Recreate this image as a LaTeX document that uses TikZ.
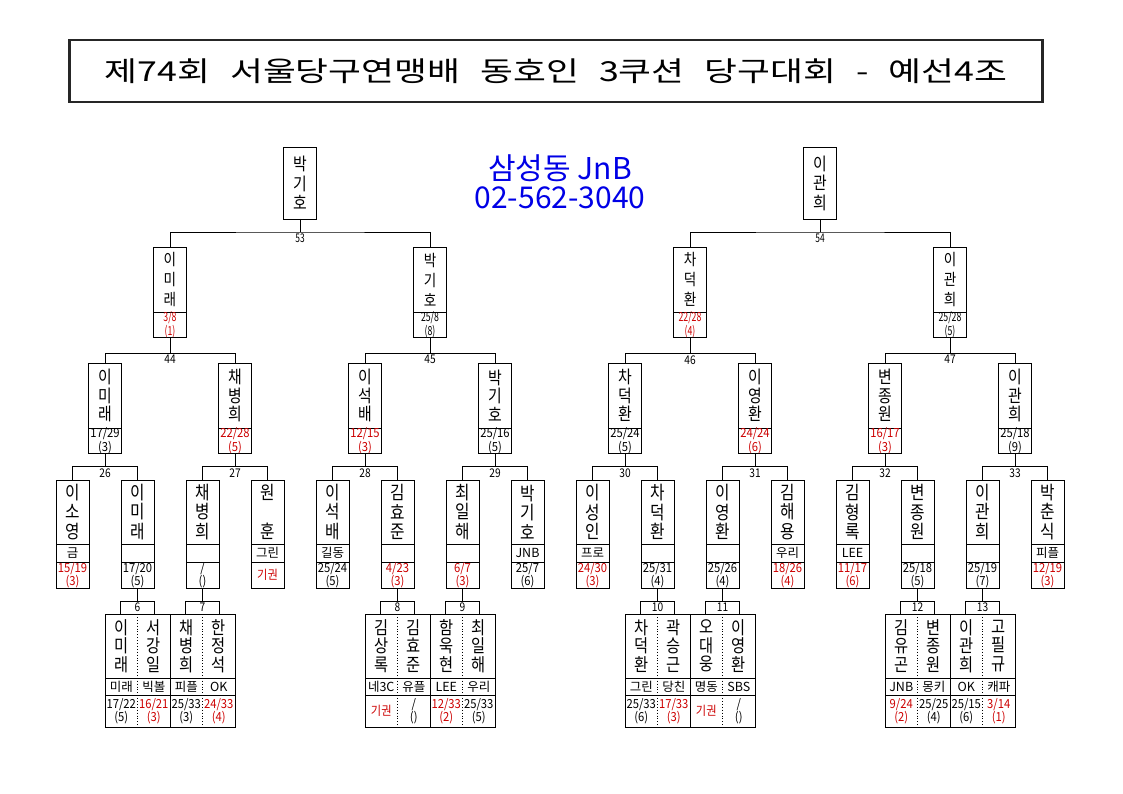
\documentclass[tikz,border=0pt]{standalone}
\usepackage{fontspec}
\setmainfont{Noto Sans CJK KR}
\newfontfamily\namefont[FakeStretch=0.85]{Noto Sans CJK KR}
\newfontfamily\digitfont[FakeStretch=0.9]{Noto Sans CJK KR}
\newfontfamily\tightfont[FakeStretch=0.7]{Noto Sans CJK KR}
\newfontfamily\titlefont[FakeStretch=1.3,WordSpace=2.5]{Noto Sans CJK KR}
\usepackage{xcolor}
\usepackage{tikz}
\usetikzlibrary{positioning}
\definecolor{lossred}{RGB}{204,0,0}
\definecolor{hallblue}{RGB}{0,0,230}
\tikzset{
x=1pt, y=-1pt, % pixel grid, y runs downwards
every node/.style={inner sep=0pt, outer sep=0pt}, % boxes touch exactly
cell/.style={draw, line width=0.9pt, minimum width=33pt}, % one box of a player
pname/.style={cell, minimum height=64pt, align=center, font=\namefont\fontsize{18.5}{19.5}\selectfont},
pn1/.style={pname, minimum height=72pt, font=\namefont\fontsize{17.5}{19.5}\selectfont},
pn2/.style={pname, minimum height=65pt, font=\namefont\fontsize{16}{20}\selectfont},
pn3/.style={pname, minimum height=65pt, font=\namefont\fontsize{17.5}{18.5}\selectfont},
club/.style={cell, minimum height=18pt, font=\fontsize{12.5}{12}\selectfont},
score/.style={cell, minimum height=26pt, align=center, font=\digitfont\fontsize{12.5}{10.5}\selectfont},
score2/.style={cell, minimum height=21pt, align=center, font=\tightfont\fontsize{12.5}{10}\selectfont},
lost/.style={text=lossred}, % the loser's score is red
p5/.style={minimum width=32.5pt, minimum height=64pt, align=center, font=\namefont\fontsize{18}{18.7}\selectfont},
c5/.style={minimum width=32.5pt, minimum height=17pt, font=\fontsize{12.5}{12}\selectfont},
s5/.style={minimum width=32.5pt, minimum height=32pt, align=center, font=\digitfont\fontsize{12.5}{10.5}\selectfont},
mbox/.style={cell, minimum width=34pt, minimum height=13pt, font=\namefont\fontsize{12}{12}\selectfont},
mno/.style={below=1.5pt, font=\namefont\fontsize{12}{12}\selectfont}, % match number under a bracket
link/.style={line width=0.9pt},
}

\begin{document}
\begin{tikzpicture}
\useasboundingbox (0,0) rectangle (1123,794);
\node[draw, line width=2.5pt, draw=black!85, minimum width=973pt, minimum height=62pt, font=\titlefont\fontsize{27.5}{27}\selectfont] (title) at (556,71) {제74회 서울당구연맹배 동호인 3쿠션 당구대회 - 예선4조};
\node[align=center, text=hallblue, font=\fontsize{30}{29}\selectfont] (hall) at (560,182) {삼성동 JnB\\02-562-3040};

\node[pn1] (w53) at (300,183) {박\\기\\호};
\node[pn1] (w54) at (820,183) {이\\관\\희};

\node[pn2] (p53a) at (170,279.5) {이\\미\\래};
\node[score2, lost, below=0pt of p53a] (p53a-s) {3/8\\(1)};
\node[pn2] (p53b) at (430,279.5) {박\\기\\호};
\node[score2, below=0pt of p53b] (p53b-s) {25/8\\(8)};
\node[pn2] (p54a) at (690,279.5) {차\\덕\\환};
\node[score2, lost, below=0pt of p54a] (p54a-s) {22/28\\(4)};
\node[pn2] (p54b) at (950,279.5) {이\\관\\희};
\node[score2, below=0pt of p54b] (p54b-s) {25/28\\(5)};

\node[pn3] (p44a) at (105,395.5) {이\\미\\래};
\node[score, minimum height=24pt, below=0pt of p44a] (p44a-s) {17/29\\(3)};
\node[pn3] (p44b) at (235,395.5) {채\\병\\희};
\node[score, lost, minimum height=24pt, below=0pt of p44b] (p44b-s) {22/28\\(5)};
\node[pn3] (p45a) at (365,395.5) {이\\석\\배};
\node[score, lost, minimum height=24pt, below=0pt of p45a] (p45a-s) {12/15\\(3)};
\node[pn3] (p45b) at (495,395.5) {박\\기\\호};
\node[score, minimum height=24pt, below=0pt of p45b] (p45b-s) {25/16\\(5)};
\node[pn3] (p46a) at (625,395.5) {차\\덕\\환};
\node[score, minimum height=24pt, below=0pt of p46a] (p46a-s) {25/24\\(5)};
\node[pn3] (p46b) at (755,395.5) {이\\영\\환};
\node[score, lost, minimum height=24pt, below=0pt of p46b] (p46b-s) {24/24\\(6)};
\node[pn3] (p47a) at (885,395.5) {변\\종\\원};
\node[score, lost, minimum height=24pt, below=0pt of p47a] (p47a-s) {16/17\\(3)};
\node[pn3] (p47b) at (1015,395.5) {이\\관\\희};
\node[score, minimum height=24pt, below=0pt of p47b] (p47b-s) {25/18\\(9)};

\node[pname] (p26a) at (72.5,512) {이\\소\\영};
\node[club, below=0pt of p26a] (p26a-c) {금};
\node[score, lost, below=0pt of p26a-c] (p26a-s) {15/19\\(3)};
\node[pname] (p26b) at (137.5,512) {이\\미\\래};
\node[club, below=0pt of p26b] (p26b-c) {};
\node[score, below=0pt of p26b-c] (p26b-s) {17/20\\(5)};
\node[pname] (p27a) at (202.5,512) {채\\병\\희};
\node[club, below=0pt of p27a] (p27a-c) {};
\node[score, below=0pt of p27a-c] (p27a-s) {/\\()};
\node[pname] (p27b) at (267.5,512) {원\\\phantom{원}\\훈};
\node[club, below=0pt of p27b] (p27b-c) {그린};
\node[score, lost, below=0pt of p27b-c] (p27b-s) {기권};
\node[pname] (p28a) at (332.5,512) {이\\석\\배};
\node[club, below=0pt of p28a] (p28a-c) {길동};
\node[score, below=0pt of p28a-c] (p28a-s) {25/24\\(5)};
\node[pname] (p28b) at (397.5,512) {김\\효\\준};
\node[club, below=0pt of p28b] (p28b-c) {};
\node[score, lost, below=0pt of p28b-c] (p28b-s) {4/23\\(3)};
\node[pname] (p29a) at (462.5,512) {최\\일\\해};
\node[club, below=0pt of p29a] (p29a-c) {};
\node[score, lost, below=0pt of p29a-c] (p29a-s) {6/7\\(3)};
\node[pname] (p29b) at (527.5,512) {박\\기\\호};
\node[club, below=0pt of p29b] (p29b-c) {JNB};
\node[score, below=0pt of p29b-c] (p29b-s) {25/7\\(6)};
\node[pname] (p30a) at (592.5,512) {이\\성\\인};
\node[club, below=0pt of p30a] (p30a-c) {프로};
\node[score, lost, below=0pt of p30a-c] (p30a-s) {24/30\\(3)};
\node[pname] (p30b) at (657.5,512) {차\\덕\\환};
\node[club, below=0pt of p30b] (p30b-c) {};
\node[score, below=0pt of p30b-c] (p30b-s) {25/31\\(4)};
\node[pname] (p31a) at (722.5,512) {이\\영\\환};
\node[club, below=0pt of p31a] (p31a-c) {};
\node[score, below=0pt of p31a-c] (p31a-s) {25/26\\(4)};
\node[pname] (p31b) at (787.5,512) {김\\해\\용};
\node[club, below=0pt of p31b] (p31b-c) {우리};
\node[score, lost, below=0pt of p31b-c] (p31b-s) {18/26\\(4)};
\node[pname] (p32a) at (852.5,512) {김\\형\\록};
\node[club, below=0pt of p32a] (p32a-c) {LEE};
\node[score, lost, below=0pt of p32a-c] (p32a-s) {11/17\\(6)};
\node[pname] (p32b) at (917.5,512) {변\\종\\원};
\node[club, below=0pt of p32b] (p32b-c) {};
\node[score, below=0pt of p32b-c] (p32b-s) {25/18\\(5)};
\node[pname] (p33a) at (982.5,512) {이\\관\\희};
\node[club, below=0pt of p33a] (p33a-c) {};
\node[score, below=0pt of p33a-c] (p33a-s) {25/19\\(7)};
\node[pname] (p33b) at (1047.5,512) {박\\춘\\식};
\node[club, below=0pt of p33b] (p33b-c) {피플};
\node[score, lost, below=0pt of p33b-c] (p33b-s) {12/19\\(3)};

\node[mbox] (m6) at (137.5,607.5) {6};
\node[p5] (m6a) at (121.25,646) {이\\미\\래};
\node[c5, below=0pt of m6a] (m6a-c) {미래};
\node[s5, below=0pt of m6a-c] (m6a-s) {17/22\\(5)};
\node[p5] (m6b) at (153.75,646) {서\\강\\일};
\node[c5, below=0pt of m6b] (m6b-c) {빅볼};
\node[s5, lost, below=0pt of m6b-c] (m6b-s) {16/21\\(3)};
\node[mbox] (m7) at (202.5,607.5) {7};
\node[p5] (m7a) at (186.25,646) {채\\병\\희};
\node[c5, below=0pt of m7a] (m7a-c) {피플};
\node[s5, below=0pt of m7a-c] (m7a-s) {25/33\\(3)};
\node[p5] (m7b) at (218.75,646) {한\\정\\석};
\node[c5, below=0pt of m7b] (m7b-c) {OK};
\node[s5, lost, below=0pt of m7b-c] (m7b-s) {24/33\\(4)};
\node[mbox] (m8) at (397.5,607.5) {8};
\node[p5] (m8a) at (381.25,646) {김\\상\\록};
\node[c5, below=0pt of m8a] (m8a-c) {네3C};
\node[s5, lost, below=0pt of m8a-c] (m8a-s) {기권};
\node[p5] (m8b) at (413.75,646) {김\\효\\준};
\node[c5, below=0pt of m8b] (m8b-c) {유플};
\node[s5, below=0pt of m8b-c] (m8b-s) {/\\()};
\node[mbox] (m9) at (462.5,607.5) {9};
\node[p5] (m9a) at (446.25,646) {함\\욱\\현};
\node[c5, below=0pt of m9a] (m9a-c) {LEE};
\node[s5, lost, below=0pt of m9a-c] (m9a-s) {12/33\\(2)};
\node[p5] (m9b) at (478.75,646) {최\\일\\해};
\node[c5, below=0pt of m9b] (m9b-c) {우리};
\node[s5, below=0pt of m9b-c] (m9b-s) {25/33\\(5)};
\node[mbox] (m10) at (657.5,607.5) {10};
\node[p5] (m10a) at (641.25,646) {차\\덕\\환};
\node[c5, below=0pt of m10a] (m10a-c) {그린};
\node[s5, below=0pt of m10a-c] (m10a-s) {25/33\\(6)};
\node[p5] (m10b) at (673.75,646) {곽\\승\\근};
\node[c5, below=0pt of m10b] (m10b-c) {당친};
\node[s5, lost, below=0pt of m10b-c] (m10b-s) {17/33\\(3)};
\node[mbox] (m11) at (722.5,607.5) {11};
\node[p5] (m11a) at (706.25,646) {오\\대\\웅};
\node[c5, below=0pt of m11a] (m11a-c) {명동};
\node[s5, lost, below=0pt of m11a-c] (m11a-s) {기권};
\node[p5] (m11b) at (738.75,646) {이\\영\\환};
\node[c5, below=0pt of m11b] (m11b-c) {SBS};
\node[s5, below=0pt of m11b-c] (m11b-s) {/\\()};
\node[mbox] (m12) at (917.5,607.5) {12};
\node[p5] (m12a) at (901.25,646) {김\\유\\곤};
\node[c5, below=0pt of m12a] (m12a-c) {JNB};
\node[s5, lost, below=0pt of m12a-c] (m12a-s) {9/24\\(2)};
\node[p5] (m12b) at (933.75,646) {변\\종\\원};
\node[c5, below=0pt of m12b] (m12b-c) {몽키};
\node[s5, below=0pt of m12b-c] (m12b-s) {25/25\\(4)};
\node[mbox] (m13) at (982.5,607.5) {13};
\node[p5] (m13a) at (966.25,646) {이\\관\\희};
\node[c5, below=0pt of m13a] (m13a-c) {OK};
\node[s5, below=0pt of m13a-c] (m13a-s) {25/15\\(6)};
\node[p5] (m13b) at (998.75,646) {고\\필\\규};
\node[c5, below=0pt of m13b] (m13b-c) {캐파};
\node[s5, lost, below=0pt of m13b-c] (m13b-s) {3/14\\(1)};

\draw[link] (w53.south) -- ++(0,13) coordinate (j53) node[mno, font=\tightfont\fontsize{12}{12}\selectfont] {53};
\draw[link] (p53a.north) |- (j53) -| (p53b.north);
\draw[link] (w54.south) -- ++(0,13) coordinate (j54) node[mno, font=\tightfont\fontsize{12}{12}\selectfont] {54};
\draw[link] (p54a.north) |- (j54) -| (p54b.north);
\draw[link] (p53a-s.south) -- ++(0,16) coordinate (j44) node[mno] {44};
\draw[link] (p44a.north) |- (j44) -| (p44b.north);
\draw[link] (p53b-s.south) -- ++(0,16) coordinate (j45) node[mno] {45};
\draw[link] (p45a.north) |- (j45) -| (p45b.north);
\draw[link] (p54a-s.south) -- ++(0,16) coordinate (j46) node[mno] {46};
\draw[link] (p46a.north) |- (j46) -| (p46b.north);
\draw[link] (p54b-s.south) -- ++(0,16) coordinate (j47) node[mno] {47};
\draw[link] (p47a.north) |- (j47) -| (p47b.north);
\draw[link] (p44a-s.south) -- ++(0,13) coordinate (j26) node[mno] {26};
\draw[link] (p26a.north) |- (j26) -| (p26b.north);
\draw[link] (p44b-s.south) -- ++(0,13) coordinate (j27) node[mno] {27};
\draw[link] (p27a.north) |- (j27) -| (p27b.north);
\draw[link] (p45a-s.south) -- ++(0,13) coordinate (j28) node[mno] {28};
\draw[link] (p28a.north) |- (j28) -| (p28b.north);
\draw[link] (p45b-s.south) -- ++(0,13) coordinate (j29) node[mno] {29};
\draw[link] (p29a.north) |- (j29) -| (p29b.north);
\draw[link] (p46a-s.south) -- ++(0,13) coordinate (j30) node[mno] {30};
\draw[link] (p30a.north) |- (j30) -| (p30b.north);
\draw[link] (p46b-s.south) -- ++(0,13) coordinate (j31) node[mno] {31};
\draw[link] (p31a.north) |- (j31) -| (p31b.north);
\draw[link] (p47a-s.south) -- ++(0,13) coordinate (j32) node[mno] {32};
\draw[link] (p32a.north) |- (j32) -| (p32b.north);
\draw[link] (p47b-s.south) -- ++(0,13) coordinate (j33) node[mno] {33};
\draw[link] (p33a.north) |- (j33) -| (p33b.north);
\draw[link] (p26b-s.south) -- (m6.north);
\draw[link] (p27a-s.south) -- (m7.north);
\draw[link] (p28b-s.south) -- (m8.north);
\draw[link] (p29a-s.south) -- (m9.north);
\draw[link] (p30b-s.south) -- (m10.north);
\draw[link] (p31a-s.south) -- (m11.north);
\draw[link] (p32b-s.south) -- (m12.north);
\draw[link] (p33a-s.south) -- (m13.north);

\draw[link] (m6a.north west) rectangle (m7b-s.south east) (m6b.north east) -- (m6b-s.south east)
  (m6a.south west) -- (m7b.south east) (m6a-c.south west) -- (m7b-c.south east);
\draw[link, dotted] (m6a.north east) -- (m6a-s.south east) (m7a.north east) -- (m7a-s.south east);
\draw[link] (m8a.north west) rectangle (m9b-s.south east) (m8b.north east) -- (m8b-s.south east)
  (m8a.south west) -- (m9b.south east) (m8a-c.south west) -- (m9b-c.south east);
\draw[link, dotted] (m8a.north east) -- (m8a-s.south east) (m9a.north east) -- (m9a-s.south east);
\draw[link] (m10a.north west) rectangle (m11b-s.south east) (m10b.north east) -- (m10b-s.south east)
  (m10a.south west) -- (m11b.south east) (m10a-c.south west) -- (m11b-c.south east);
\draw[link, dotted] (m10a.north east) -- (m10a-s.south east) (m11a.north east) -- (m11a-s.south east);
\draw[link] (m12a.north west) rectangle (m13b-s.south east) (m12b.north east) -- (m12b-s.south east)
  (m12a.south west) -- (m13b.south east) (m12a-c.south west) -- (m13b-c.south east);
\draw[link, dotted] (m12a.north east) -- (m12a-s.south east) (m13a.north east) -- (m13a-s.south east);
\end{tikzpicture}
\end{document}
